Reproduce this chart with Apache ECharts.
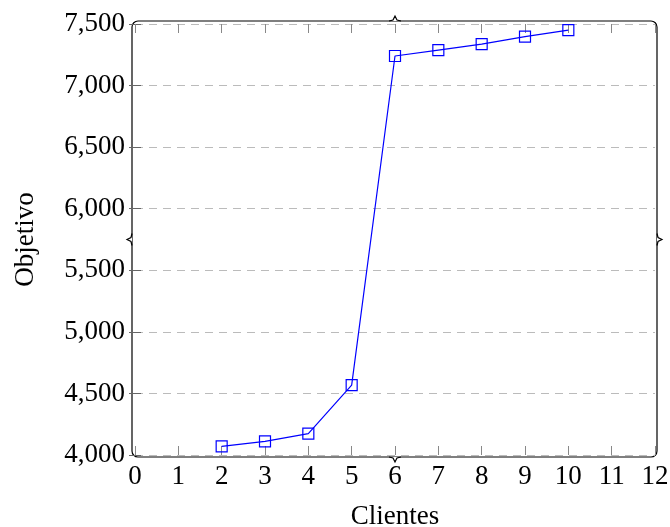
<!DOCTYPE html>
<html>
<head>
<meta charset="utf-8">
<script src="https://cdn.jsdelivr.net/npm/echarts@6/dist/echarts.min.js"></script>
<style>
  html, body { margin: 0; padding: 0; background: #fff; }
  #chart { width: 670px; height: 527px; }
</style>
</head>
<body>
<div id="chart"></div>
<script>
// data
const clientes = [2, 3, 4, 5, 6, 7, 8, 9, 10]
const objetivo = [4070, 4110, 4173, 4567, 7240, 7288, 7337, 7397, 7451]

const xMin = 0
const xMax = 12
const yMin = 4000
const yMax = 7500
const yStep = 500

const font = 'Liberation Serif'
const blue = '#0000ff'

const chart = echarts.init(document.getElementById('chart'))

// plot box in pixels (frame decoration only)
const L = 135, R = 655, T = 24, B = 455
const fx0 = L - 3, fx1 = R + 2, fy0 = T - 3, fy1 = B + 2
const mx = (L + R) / 2, my = (T + B) / 2
const frameStyle = { stroke: '#000', lineWidth: 1.2, fill: null }

const option = {
  animation: false,
  grid: {
    left: L, right: 670 - R, top: T, bottom: 527 - B,
    containLabel: false, outerBoundsMode: 'none'
  },
  xAxis: [
    {
      type: 'value', min: xMin, max: xMax, interval: 1,
      name: 'Clientes', nameLocation: 'middle', nameGap: 48,
      nameTextStyle: { fontFamily: font, fontSize: 27, color: '#000' },
      axisLine: { show: false },
      axisTick: { show: true, inside: true, length: 9, lineStyle: { color: '#888', width: 1 } },
      axisLabel: { fontFamily: font, fontSize: 27, color: '#000', margin: 8 },
      splitLine: { show: false }
    },
    {
      type: 'value', min: xMin, max: xMax, interval: 1, position: 'top',
      axisLine: { show: false },
      axisTick: { show: true, inside: true, length: 9, lineStyle: { color: '#888', width: 1 } },
      axisLabel: { show: false },
      splitLine: { show: false }
    }
  ],
  yAxis: [
    {
      type: 'value', min: yMin, max: yMax, interval: yStep,
      name: 'Objetivo', nameLocation: 'middle', nameGap: 96, nameRotate: 90,
      nameTextStyle: { fontFamily: font, fontSize: 27, color: '#000' },
      axisLine: { show: false },
      axisTick: { show: true, inside: true, length: 6, lineStyle: { color: '#666', width: 1 } },
      axisLabel: {
        fontFamily: font, fontSize: 27, color: '#000', margin: 10,
        formatter: v => v.toLocaleString('en-US')
      },
      splitLine: { show: true, lineStyle: { color: '#bbb', type: [8, 6], width: 1 } }
    },
    {
      type: 'value', min: yMin, max: yMax, interval: yStep, position: 'right',
      axisLine: { show: false },
      axisTick: { show: true, inside: true, length: 6, lineStyle: { color: '#666', width: 1 } },
      axisLabel: { show: false },
      splitLine: { show: false }
    }
  ],
  graphic: [
    { type: 'rect', silent: true, shape: { x: fx0, y: fy0, width: fx1 - fx0, height: fy1 - fy0, r: 6 }, style: frameStyle },
    // brace tips at each side's middle
    { type: 'polyline', silent: true, shape: { points: [[mx - 6, fy0], [mx - 2, fy0 - 1], [mx, fy0 - 5], [mx + 2, fy0 - 1], [mx + 6, fy0]] }, style: { stroke: '#000', lineWidth: 1.2, fill: '#fff' } },
    { type: 'polyline', silent: true, shape: { points: [[mx - 6, fy1], [mx - 2, fy1 + 1], [mx, fy1 + 5], [mx + 2, fy1 + 1], [mx + 6, fy1]] }, style: { stroke: '#000', lineWidth: 1.2, fill: '#fff' } },
    { type: 'polyline', silent: true, shape: { points: [[fx0, my - 6], [fx0 - 1, my - 2], [fx0 - 5, my], [fx0 - 1, my + 2], [fx0, my + 6]] }, style: { stroke: '#000', lineWidth: 1.2, fill: '#fff' } },
    { type: 'polyline', silent: true, shape: { points: [[fx1, my - 6], [fx1 + 1, my - 2], [fx1 + 5, my], [fx1 + 1, my + 2], [fx1, my + 6]] }, style: { stroke: '#000', lineWidth: 1.2, fill: '#fff' } }
  ],
  series: [
    {
      type: 'line',
      data: clientes.map((c, i) => [c, objetivo[i]]),
      symbol: 'rect',
      symbolSize: 11,
      showAllSymbol: true,
      lineStyle: { color: blue, width: 1.2 },
      itemStyle: { color: 'rgba(0,0,0,0)', borderColor: blue, borderWidth: 1.2 },
      z: 5
    }
  ]
}

chart.setOption(option)
</script>
</body>
</html>
